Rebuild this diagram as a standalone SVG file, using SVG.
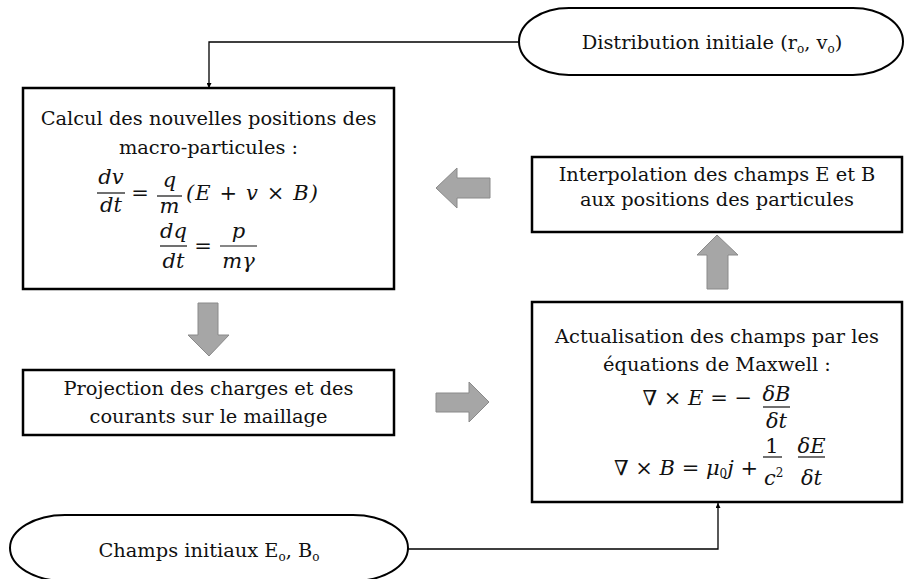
<svg xmlns="http://www.w3.org/2000/svg" width="905" height="579" viewBox="0 0 905 579">
<style>
.box{fill:#fff;stroke:#000;stroke-width:2.5}
.term{fill:#fff;stroke:#000;stroke-width:2}
.t{font-family:"DejaVu Serif","Liberation Serif",serif;font-size:19.4px;fill:#111;text-anchor:middle}
.m{font-family:"DejaVu Serif","Liberation Serif",serif;font-size:21px;font-style:italic;fill:#111}
.mu{font-family:"DejaVu Serif","Liberation Serif",serif;font-size:21px;fill:#111}
.c{text-anchor:middle}
.bar{stroke:#111;stroke-width:1.2}
.conn{fill:none;stroke:#000;stroke-width:1.3}
.blk{fill:#a6a6a6;stroke:#8a8a8a;stroke-width:1}
.sub{font-size:12px}
</style>
<defs>
<marker id="ah" viewBox="0 0 10 10" refX="10" refY="5" markerWidth="5" markerHeight="5" orient="auto" markerUnits="userSpaceOnUse">
<path d="M0,0 L10,5 L0,10 z" fill="#000"/>
</marker>
</defs>

<g id="connectors">
<path class="conn" d="M519,42 H209 V88" marker-end="url(#ah)"/>
<path class="conn" d="M408,549 H718 V503" marker-end="url(#ah)"/>
<path class="blk" d="M436,188 L457,168 L457,178 L490,178 L490,198 L457,198 L457,208 Z"/>
<path class="blk" d="M489,402 L469,382 L469,393 L436,393 L436,412 L469,412 L469,422 Z"/>
<path class="blk" d="M209,356 L188,335 L198,335 L198,303 L218,303 L218,335 L229,335 Z"/>
<path class="blk" d="M717,235 L697,255 L707,255 L707,289 L728,289 L728,255 L738,255 Z"/>
</g>

<g id="distribution">
<path class="term" d="M569,8 H853 A50,33.5 0 0 1 853,75 H569 A50,33.5 0 0 1 569,8 Z"/>
<text class="t" x="712" y="49">Distribution initiale (r<tspan class="sub" dy="4">o</tspan><tspan dy="-4">, v</tspan><tspan class="sub" dy="4">o</tspan><tspan dy="-4">)</tspan></text>
</g>

<g id="calcul">
<rect class="box" x="23" y="88" width="371" height="201"/>
<text class="t" x="208.5" y="125">Calcul des nouvelles positions des</text>
<text class="t" x="208.5" y="154">macro-particules :</text>
<text class="m c" x="111" y="184">dv</text>
<line class="bar" x1="97" y1="193" x2="125" y2="193"/>
<text class="m c" x="111" y="212">dt</text>
<text class="mu c" x="140" y="200">=</text>
<text class="m c" x="169.5" y="187">q</text>
<line class="bar" x1="157" y1="196" x2="182" y2="196"/>
<text class="m c" x="169.5" y="213">m</text>
<text class="m" x="186" y="200" textLength="132">(E + v  × B)</text>
<text class="m c" x="173.5" y="238">dq</text>
<line class="bar" x1="160" y1="246" x2="187" y2="246"/>
<text class="m c" x="173.5" y="268">dt</text>
<text class="mu c" x="203" y="253">=</text>
<text class="m c" x="238.5" y="238">p</text>
<line class="bar" x1="220" y1="246" x2="257" y2="246"/>
<text class="m c" x="238.5" y="268">mγ</text>
</g>

<g id="interpolation">
<rect class="box" x="532" y="157" width="370" height="75"/>
<text class="t" x="717" y="181">Interpolation des champs E et B</text>
<text class="t" x="717" y="206">aux positions des particules</text>
</g>

<g id="projection">
<rect class="box" x="23" y="370" width="371" height="65"/>
<text class="t" x="208.5" y="395">Projection des charges et des</text>
<text class="t" x="208.5" y="423">courants sur le maillage</text>
</g>

<g id="actualisation">
<rect class="box" x="532" y="302" width="370" height="200"/>
<text class="t" x="717" y="343">Actualisation des champs par les</text>
<text class="t" x="717" y="371">équations de Maxwell :</text>
<text class="m" x="752" y="405" text-anchor="end"><tspan font-style="normal">∇ × </tspan>E<tspan font-style="normal"> = −</tspan></text>
<text class="m c" x="776.5" y="401">δB</text>
<line class="bar" x1="763" y1="407" x2="790" y2="407"/>
<text class="m c" x="776.5" y="428">δt</text>
<text class="m" x="758" y="475" text-anchor="end">∇<tspan font-style="normal"> × </tspan>B<tspan font-style="normal"> =  </tspan>μ<tspan class="sub" font-style="normal" dy="3">0</tspan><tspan dy="-3">j</tspan><tspan font-style="normal"> +</tspan></text>
<text class="mu c" x="772" y="453">1</text>
<line class="bar" x1="763" y1="457" x2="782" y2="457"/>
<text class="m" x="764" y="485">c<tspan class="sub" font-style="normal" font-size="8" dy="-8">2</tspan></text>
<text class="m c" x="811.5" y="453">δE</text>
<line class="bar" x1="798" y1="457" x2="825" y2="457"/>
<text class="m c" x="811.5" y="485">δt</text>
</g>

<g id="champs">
<path class="term" d="M65,515 H353 A55,33 0 0 1 353,581 H65 A55,33 0 0 1 65,515 Z"/>
<text class="t" x="209" y="557">Champs initiaux E<tspan class="sub" dy="4">o</tspan><tspan dy="-4">, B</tspan><tspan class="sub" dy="4">o</tspan></text>
</g>
</svg>
